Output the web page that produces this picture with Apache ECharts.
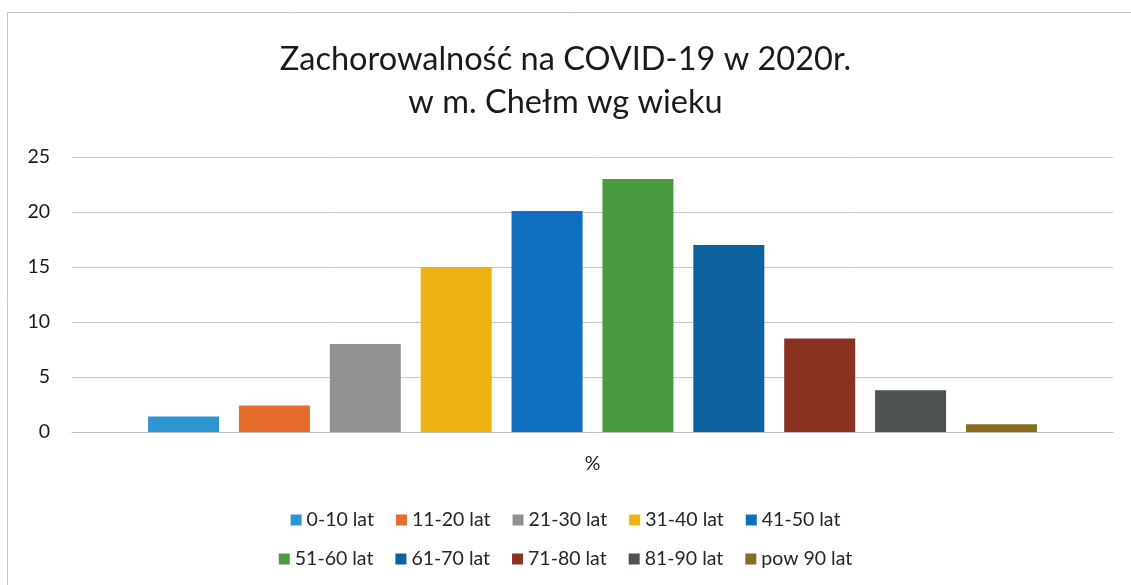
<!DOCTYPE html>
<html>
<head>
<meta charset="utf-8">
<script src="https://cdn.jsdelivr.net/npm/echarts@6/dist/echarts.min.js"></script>
<style>
  html, body { margin: 0; padding: 0; background: #fff; }
  #chart { width: 1131px; height: 585px; }
</style>
</head>
<body>
<div id="chart"></div>
<script>
var ageGroups = ['0-10 lat', '11-20 lat', '21-30 lat', '31-40 lat', '41-50 lat',
  '51-60 lat', '61-70 lat', '71-80 lat', '81-90 lat', 'pow 90 lat']
var values = [1.4, 2.4, 8.0, 15.0, 20.1, 23.0, 17.0, 8.5, 3.8, 0.7]
var colors = ['#2e95d3', '#e66c2c', '#8f928f', '#ecb313', '#0f6ebf',
  '#4a9a41', '#0b629f', '#8a3222', '#4c5350', '#8a6b1f']
var category = ['%']
var yTicks = [0, 5, 10, 15, 20, 25]

var font = 'Lato, "Open Sans", sans-serif'

var series = ageGroups.map(function(name, i) {
  return {
    name: name,
    type: 'bar',
    data: [values[i]],
    barWidth: 71,
    barGap: '28%',
    itemStyle: { color: colors[i] }
  }
})

var legendText = { fontSize: 19.5, color: '#262626', fontFamily: font }

var chart = echarts.init(document.getElementById('chart'))
chart.setOption({
  backgroundColor: '#fff',
  animation: false,
  textStyle: { fontFamily: font },
  title: {
    text: 'Zachorowalność na COVID-19 w 2020r.\nw m. Chełm wg wieku',
    left: 'center',
    top: 33,
    textStyle: {
      fontFamily: font,
      fontSize: 32.5,
      fontWeight: 'normal',
      color: '#1a1a1a',
      lineHeight: 43
    }
  },
  legend: [
    {
      data: ageGroups.slice(0, 5),
      top: 505,
      left: 'center',
      itemWidth: 11,
      itemHeight: 11,
      itemGap: 22,
      icon: 'rect',
      textStyle: legendText
    },
    {
      data: ageGroups.slice(5),
      top: 544,
      left: 'center',
      itemWidth: 11,
      itemHeight: 11,
      itemGap: 22,
      icon: 'rect',
      textStyle: legendText
    }
  ],
  grid: {
    left: 72,
    right: 18,
    top: 157,
    bottom: 153,
    containLabel: false
  },
  xAxis: {
    type: 'category',
    data: category,
    axisTick: { show: false },
    axisLine: { lineStyle: { color: '#bfbfbf' } },
    axisLabel: { fontSize: 19.5, color: '#1a1a1a', margin: 22 }
  },
  yAxis: {
    type: 'value',
    min: yTicks[0],
    max: yTicks[yTicks.length - 1],
    interval: 5,
    axisLine: { show: false },
    axisTick: { show: false },
    axisLabel: { fontSize: 19.5, color: '#1a1a1a', margin: 22 },
    splitLine: { lineStyle: { color: '#c8c8c8' } }
  },
  graphic: [
    {
      type: 'rect',
      shape: { x: 7.5, y: 12.5, width: 1140, height: 600 },
      style: { fill: 'none', stroke: '#c4c4c4', lineWidth: 1 },
      silent: true
    }
  ],
  series: series
})
</script>
</body>
</html>
